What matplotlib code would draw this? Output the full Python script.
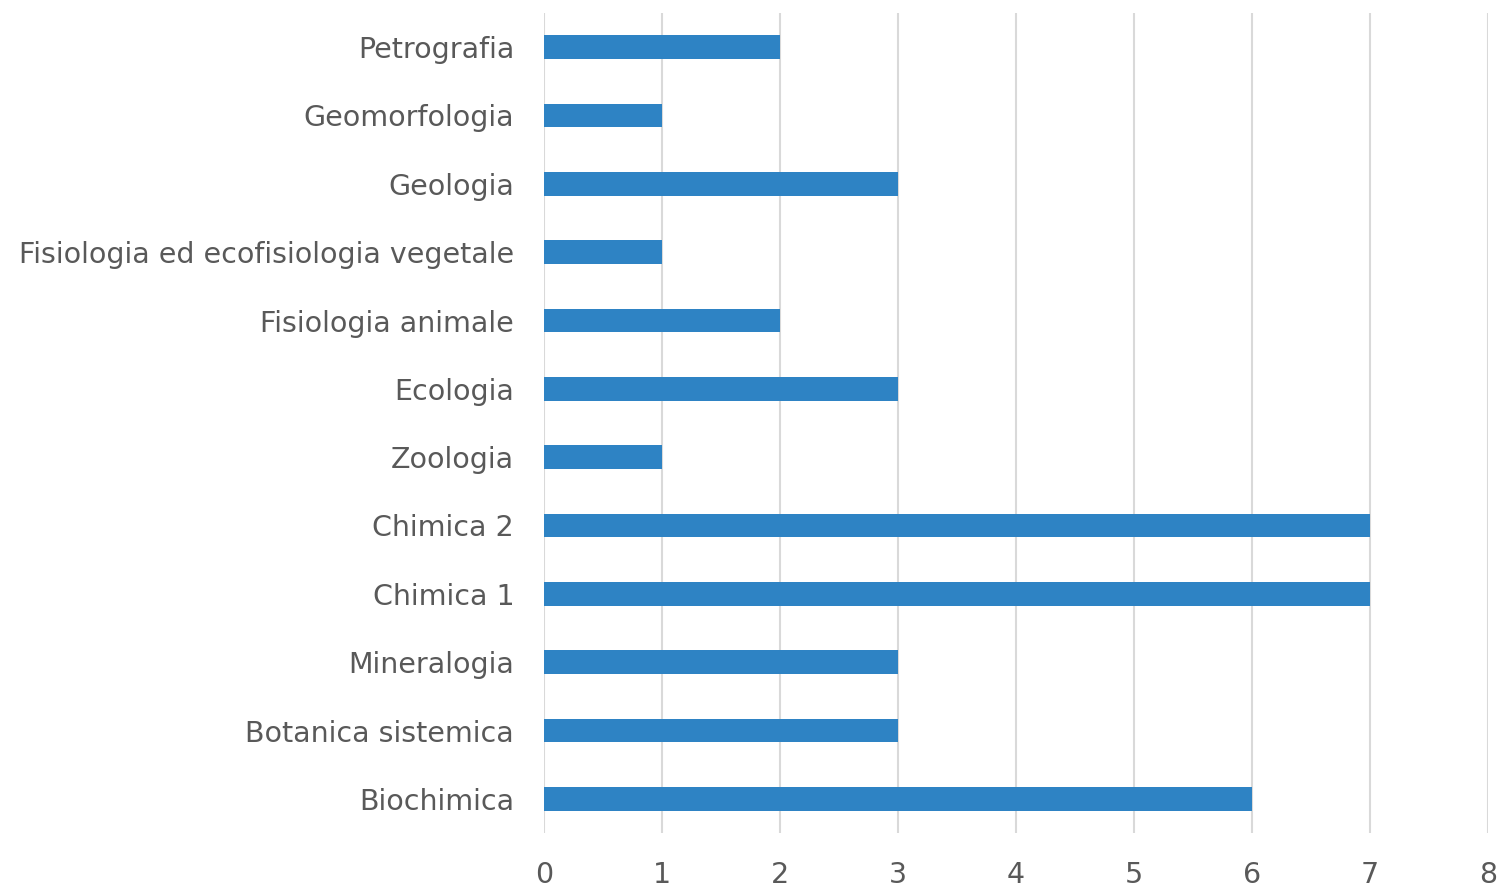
import matplotlib
matplotlib.use("Agg")
import matplotlib.pyplot as plt

categories = ["Biochimica", "Botanica sistemica", "Mineralogia", "Chimica 1", "Chimica 2",
              "Zoologia", "Ecologia", "Fisiologia animale",
              "Fisiologia ed ecofisiologia vegetale", "Geologia", "Geomorfologia", "Petrografia"]
values = [6, 3, 3, 7, 7, 1, 3, 2, 1, 3, 1, 2]
xticks = [0, 1, 2, 3, 4, 5, 6, 7, 8]

plt.rcParams['font.family'] = ['DejaVu Sans']
fig = plt.figure(figsize=(14.99, 8.90), dpi=100)
ax = fig.add_axes([544/1499, 1-833/890, (1488-544)/1499, (833-13)/890])

ax.barh(range(len(categories)), values, height=0.35, color="#2E83C4", zorder=3)
ax.set_xlim(0, 8)
ax.set_ylim(-0.5, len(categories) - 0.5)
ax.set_xticks(xticks)
ax.set_yticks(range(len(categories)))
ax.set_yticklabels(categories)
ax.grid(axis='x', color="#D9D9D9", linewidth=1.5, zorder=0)
for s in ax.spines.values():
    s.set_visible(False)
ax.tick_params(axis='both', length=0, labelsize=20.5, colors="#595959")
ax.tick_params(axis='y', pad=21.5)
ax.tick_params(axis='x', pad=20)

fig.savefig("out.png", dpi=100, facecolor="white")
